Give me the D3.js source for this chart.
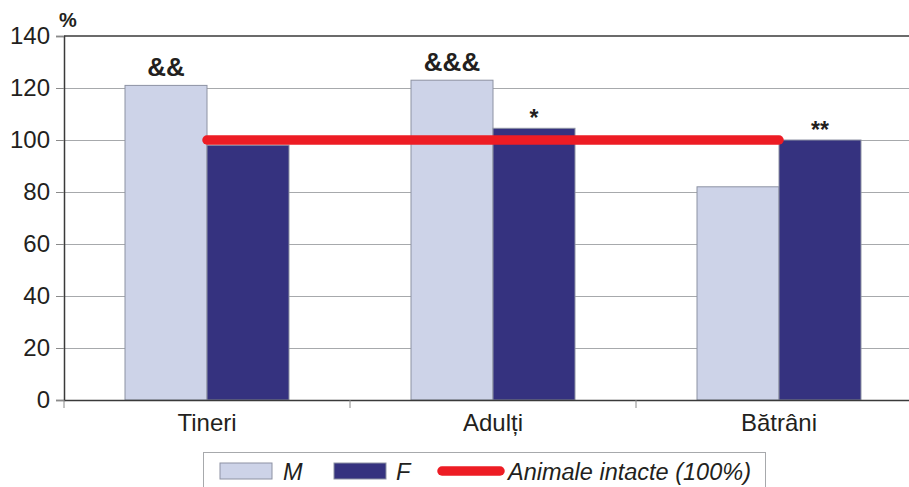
<!DOCTYPE html>
<html lang="en">

<head>
  <meta charset="UTF-8" />
  <title>Animale intacte</title>
  <script src="https://d3js.org/d3.v7.min.js"></script>
  <style>
    body {
      margin: 0;
      background: #fff;
    }

    svg text {
      font-family: "Liberation Sans", Arial, sans-serif;
      fill: #231f20;
    }
  </style>
</head>

<body>
  <script>
    //data
    const categories = ['Tineri', 'Adulți', 'Bătrâni'];
    const series = ['M', 'F'];
    const valuesM = [121, 123, 82];
    const valuesF = [98, 104.5, 100];
    const reference = [100, 100, 100];
    const marksM = ['&&', '&&&', ''];
    const marksF = ['', '*', '**'];
    const yTicks = [0, 20, 40, 60, 80, 100, 120, 140];

    const colors = { M: '#cdd3e8', F: '#35327f', line: '#ed1c24' };

    const width = 909, height = 487;
    const margin = { top: 36, left: 64, bottom: 87 };
    const plotRight = 922; // chart continues a little past the picture edge

    const svg = d3.select('body').append('svg')
      .attr('width', width)
      .attr('height', height);

    const x = d3.scaleBand()
      .domain(categories)
      .range([margin.left, plotRight])
      .padding(0);

    const xs = d3.scaleBand()
      .domain(series)
      .range([0, x.bandwidth()])
      .paddingInner(0)
      .paddingOuter(0.744);

    const y = d3.scaleLinear()
      .domain([0, 140])
      .range([height - margin.bottom, margin.top]);

    //grid
    svg.append('g')
      .selectAll('line')
      .data(yTicks.slice(1, -1))
      .join('line')
      .attr('x1', margin.left)
      .attr('x2', plotRight)
      .attr('y1', d => Math.round(y(d)) + 0.5)
      .attr('y2', d => Math.round(y(d)) + 0.5)
      .attr('stroke', '#a7a9ac')
      .attr('stroke-width', 1.2);

    // top border
    svg.append('line')
      .attr('x1', margin.left).attr('x2', plotRight)
      .attr('y1', y(140)).attr('y2', y(140))
      .attr('stroke', '#3a3a3a').attr('stroke-width', 1.5);

    //bars
    const rows = categories.map((c, i) => ({ cat: c, M: valuesM[i], F: valuesF[i] }));
    const groups = svg.append('g')
      .selectAll('g')
      .data(rows)
      .join('g')
      .attr('transform', d => `translate(${x(d.cat)},0)`);

    groups.selectAll('rect')
      .data(d => series.map(s => ({ key: s, value: d[s] })))
      .join('rect')
      .attr('x', d => xs(d.key))
      .attr('width', xs.bandwidth())
      .attr('y', d => y(d.value))
      .attr('height', d => y(0) - y(d.value))
      .attr('fill', d => colors[d.key])
      .attr('stroke', '#8d92a3')
      .attr('stroke-width', 1);

    //axes
    const yAxis = d3.axisLeft(y)
      .tickValues(yTicks)
      .tickSize(8)
      .tickPadding(6)
      .tickFormat(d3.format('d'));

    const yg = svg.append('g')
      .attr('transform', `translate(${margin.left},0)`)
      .call(yAxis);
    yg.select('.domain').attr('stroke', '#3a3a3a').attr('stroke-width', 1.5);
    yg.selectAll('.tick line').attr('stroke', '#8a8a8a');
    yg.selectAll('.tick text').style('font-size', '24px');

    const xAxis = d3.axisBottom(x).tickSize(0).tickPadding(14);
    const xg = svg.append('g')
      .attr('transform', `translate(0,${y(0)})`)
      .call(xAxis);
    xg.select('.domain').attr('stroke', '#3a3a3a').attr('stroke-width', 1.5);
    xg.selectAll('.tick text').style('font-size', '24px');

    // small ticks on band boundaries
    svg.append('g')
      .selectAll('line')
      .data(categories)
      .join('line')
      .attr('x1', d => x(d)).attr('x2', d => x(d))
      .attr('y1', y(0)).attr('y2', y(0) + 8)
      .attr('stroke', '#8a8a8a');

    // % label
    svg.append('text')
      .attr('x', 59).attr('y', 27)
      .style('font-size', '20px')
      .style('font-weight', 'bold')
      .text('%');

    //reference line
    const line = d3.line()
      .x((d, i) => x(categories[i]) + x.bandwidth() / 2)
      .y(d => y(d));

    svg.append('path')
      .datum(reference)
      .attr('d', line)
      .attr('fill', 'none')
      .attr('stroke', colors.line)
      .attr('stroke-width', 9.5)
      .attr('stroke-linecap', 'round');

    //significance marks
    const marks = [];
    categories.forEach((c, i) => {
      marks.push({ cat: c, key: 'M', value: valuesM[i], text: marksM[i] });
      marks.push({ cat: c, key: 'F', value: valuesF[i], text: marksF[i] });
    });

    svg.append('g')
      .selectAll('text')
      .data(marks.filter(d => d.text))
      .join('text')
      .attr('x', d => x(d.cat) + xs(d.key) + xs.bandwidth() / 2)
      .attr('y', d => y(d.value) - (d.text.startsWith('&') ? 9 : 2))
      .attr('text-anchor', 'middle')
      .style('font-size', d => d.text.startsWith('&') ? '26px' : '23px')
      .style('font-weight', 'bold')
      .text(d => d.text);

    //legend
    const legend = svg.append('g');
    legend.append('rect')
      .attr('x', 203.5).attr('y', 452.5)
      .attr('width', 562).attr('height', 60)
      .attr('fill', '#fff')
      .attr('stroke', '#a7a9ac');

    const legendItems = [
      { label: 'M', type: 'rect', color: colors.M, x: 220, tx: 283 },
      { label: 'F', type: 'rect', color: colors.F, x: 334, tx: 396 },
      { label: 'Animale intacte (100%)', type: 'line', color: colors.line, x: 442, tx: 508 }
    ];

    legend.selectAll('rect.sw')
      .data(legendItems.filter(d => d.type === 'rect'))
      .join('rect')
      .attr('class', 'sw')
      .attr('x', d => d.x).attr('y', 463)
      .attr('width', 52).attr('height', 16)
      .attr('fill', d => d.color)
      .attr('stroke', '#8d92a3');

    legend.selectAll('line.sw')
      .data(legendItems.filter(d => d.type === 'line'))
      .join('line')
      .attr('class', 'sw')
      .attr('x1', d => d.x).attr('x2', d => d.x + 58)
      .attr('y1', 471).attr('y2', 471)
      .attr('stroke', d => d.color)
      .attr('stroke-width', 9.5)
      .attr('stroke-linecap', 'round');

    legend.selectAll('text')
      .data(legendItems)
      .join('text')
      .attr('x', d => d.tx).attr('y', 480)
      .style('font-size', '23.5px')
      .style('font-style', 'italic')
      .text(d => d.label);
  </script>
</body>

</html>
